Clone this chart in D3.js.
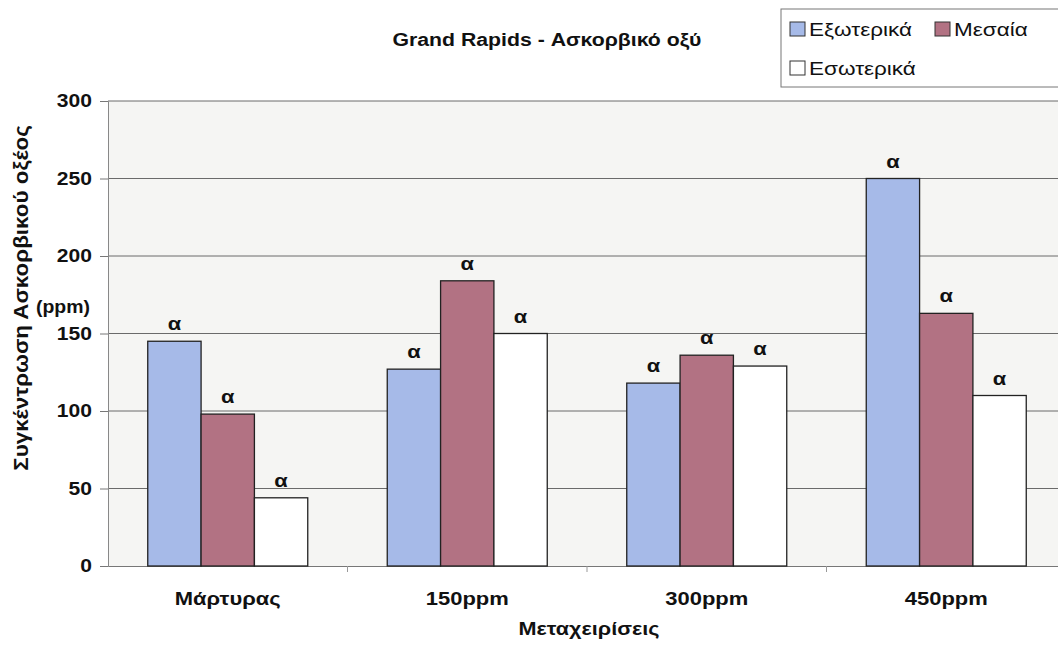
<!DOCTYPE html>
<html>
<head>
<meta charset="utf-8">
<script src="https://cdn.jsdelivr.net/npm/d3@7"></script>
<style>
  body { margin: 0; background: #fff; }
  text { font-family: "Liberation Sans", Arial, sans-serif; fill: #111; }
</style>
</head>
<body>
<div id="chart"></div>
<script>
// chart data
var categories = ["Μάρτυρας", "150ppm", "300ppm", "450ppm"];
var seriesNames = ["Εξωτερικά", "Μεσαία", "Εσωτερικά"];
var outer  = [145, 127, 118, 250];
var middle = [98, 184, 136, 163];
var inner  = [44, 150, 129, 110];
var sigLetters = ["α", "α", "α", "α"];
var yTicks = [0, 50, 100, 150, 200, 250, 300];

var colors = ["#a6bae8", "#b27283", "#ffffff"];

var W = 1058, H = 647;
// plot runs a bit past the right edge, like the cropped original
var margin = {top: 101, left: 108, bottom: 81, right: -8};
var width = W - margin.left - margin.right,
    height = H - margin.top - margin.bottom;

// the scanned original has horizontally stretched lettering
function stretch(sel, k) {
  sel.each(function() {
    var len = this.getComputedTextLength();
    d3.select(this).attr("textLength", len * k).attr("lengthAdjust", "spacingAndGlyphs");
  });
}

var svg = d3.select("#chart").append("svg")
    .attr("width", W).attr("height", H);

// plot area background
svg.append("rect")
    .attr("x", margin.left).attr("y", margin.top)
    .attr("width", width).attr("height", height)
    .attr("fill", "#f5f5f3");

var g = svg.append("g")
    .attr("transform", "translate(" + margin.left + "," + margin.top + ")");

var x = d3.scaleBand().domain(categories).range([0, width]).paddingInner(0).paddingOuter(0);
var x1 = d3.scaleBand().domain(seriesNames).range([0, 160]);
var y = d3.scaleLinear().domain([0, 300]).range([height, 0]);

// gridlines
g.selectAll(".grid").data(yTicks.slice(1)).enter().append("line")
    .attr("x1", 0).attr("x2", width)
    .attr("y1", function(d) { return y(d); }).attr("y2", function(d) { return y(d); })
    .attr("stroke", "#6a6a6a").attr("stroke-width", 1);

// y axis
var yAxis = g.append("g")
    .call(d3.axisLeft(y).tickValues(yTicks).tickSize(8).tickPadding(8));
yAxis.select(".domain").attr("stroke", "#888");
yAxis.selectAll(".tick line").attr("stroke", "#777");
yAxis.selectAll("text")
    .style("font-size", "18px").style("font-weight", "bold").attr("fill", "#222")
    .call(stretch, 1.17);

// x axis
var xAxis = g.append("g")
    .attr("transform", "translate(0," + height + ")")
    .call(d3.axisBottom(x).tickSize(0).tickPadding(26));
xAxis.select(".domain").attr("stroke", "#777");
xAxis.selectAll("text")
    .style("font-size", "18px").style("font-weight", "bold").attr("fill", "#222")
    .call(stretch, 1.22);
// small tick marks between categories
g.selectAll(".xtick").data(categories.slice(1)).enter().append("line")
    .attr("x1", function(d) { return x(d); }).attr("x2", function(d) { return x(d); })
    .attr("y1", height).attr("y2", height + 6)
    .attr("stroke", "#999");

// bars
var series = [outer, middle, inner];
var rows = [];
categories.forEach(function(c, i) {
  seriesNames.forEach(function(s, j) {
    rows.push({cat: c, name: s, value: series[j][i], color: colors[j], label: sigLetters[i]});
  });
});

var groupOff = (x.bandwidth() - 160) / 2;

g.selectAll(".bar").data(rows).enter().append("rect")
    .attr("x", function(d) { return x(d.cat) + groupOff + x1(d.name); })
    .attr("y", function(d) { return y(d.value); })
    .attr("width", x1.bandwidth())
    .attr("height", function(d) { return height - y(d.value); })
    .attr("fill", function(d) { return d.color; })
    .attr("stroke", "#222").attr("stroke-width", 1.3);

g.selectAll(".lbl").data(rows).enter().append("text")
    .attr("x", function(d) { return x(d.cat) + groupOff + x1(d.name) + x1.bandwidth() / 2; })
    .attr("y", function(d) { return y(d.value) - 11; })
    .attr("text-anchor", "middle")
    .style("font-size", "19px").style("font-weight", "bold")
    .text(function(d) { return d.label; })
    .call(stretch, 1.15);

// titles
svg.append("text")
    .attr("x", 547).attr("y", 46)
    .attr("text-anchor", "middle")
    .style("font-size", "18px").style("font-weight", "bold")
    .text("Grand Rapids - Ασκορβικό οξύ")
    .call(stretch, 1.18);

svg.append("text")
    .attr("x", 589).attr("y", 635)
    .attr("text-anchor", "middle")
    .style("font-size", "18px").style("font-weight", "bold")
    .text("Μεταχειρίσεις")
    .call(stretch, 1.2);

svg.append("text")
    .attr("transform", "translate(28,298) rotate(-90)")
    .attr("text-anchor", "middle")
    .style("font-size", "20px").style("font-weight", "bold")
    .text("Συγκέντρωση Ασκορβικού οξέος")
    .call(stretch, 1.12);

svg.append("text")
    .attr("x", 63).attr("y", 313)
    .attr("text-anchor", "middle")
    .style("font-size", "18px").style("font-weight", "bold")
    .text("(ppm)")
    .call(stretch, 1.08);

// legend
var leg = svg.append("g");
leg.append("rect")
    .attr("x", 781).attr("y", 9).attr("width", 290).attr("height", 78)
    .attr("fill", "#fff").attr("stroke", "#777");
var legPos = [[790, 36], [935, 36], [790, 75]];
seriesNames.forEach(function(s, j) {
  leg.append("rect")
    .attr("x", legPos[j][0]).attr("y", legPos[j][1] - 14)
    .attr("width", 15).attr("height", 14)
    .attr("fill", colors[j]).attr("stroke", "#333");
  leg.append("text")
    .attr("x", legPos[j][0] + 19).attr("y", legPos[j][1])
    .style("font-size", "18px")
    .text(s)
    .call(stretch, 1.25);
});
</script>
</body>
</html>
